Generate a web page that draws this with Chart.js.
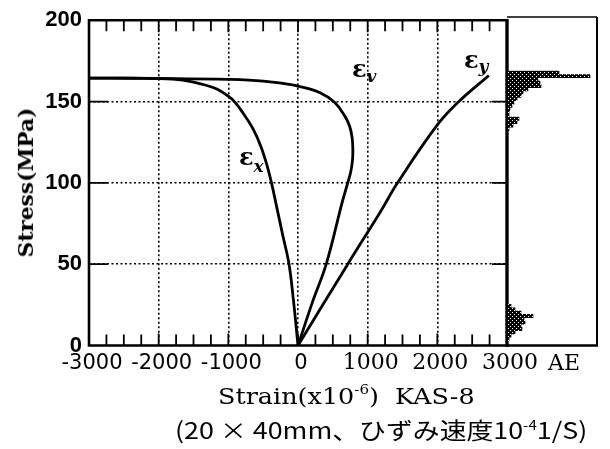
<!DOCTYPE html>
<html lang="ja">
<head>
<meta charset="utf-8">
<title>Stress–Strain KAS-8</title>
<script src="https://cdn.jsdelivr.net/npm/chart.js@4.4.1/dist/chart.umd.min.js"></script>
<style>
  html, body { margin: 0; padding: 0; background: #fff; }
  #wrap { position: relative; width: 610px; height: 449px; overflow: hidden; background: #fff; }
  #wrap canvas { position: absolute; left: 0; top: 0; }
  .lbl { position: absolute; white-space: nowrap; color: #000; line-height: 1; }
  .eps { font-family: "DejaVu Serif", serif; font-size: 24px; font-weight: bold; }
  .eps sub { font-family: "DejaVu Serif", serif; font-style: italic; font-weight: bold; font-size: 17px; vertical-align: 0; position: relative; }
  #xtitle { font-family: "DejaVu Serif", serif; font-size: 22px; transform-origin: 0 0; }
  #xtitle sup { font-size: 13px; vertical-align: 0; position: relative; top: -10px; }
  #jp { font-family: "Noto Sans CJK JP", sans-serif; font-size: 23px; transform-origin: 0 0; }
  #jp sup { font-size: 13px; vertical-align: 0; position: relative; top: -9px; }
  #ytitle { font-family: "DejaVu Serif", serif; font-size: 21px; font-weight: bold; transform-origin: 50% 50%; }
  #aeLabel { font-family: "DejaVu Serif", serif; font-size: 22px; }
</style>
</head>
<body>
<div id="wrap">
  <canvas id="mainChart" width="610" height="449"></canvas>
  <canvas id="aeChart" width="610" height="449"></canvas>
  <div class="lbl eps" style="left:464px; top:48px;">ε<sub style="top:4px">y</sub></div>
  <div class="lbl eps" style="left:352px; top:57px;">ε<sub style="top:5px">v</sub></div>
  <div class="lbl eps" style="left:239px; top:145px;">ε<sub style="top:7px">x</sub></div>
  <div class="lbl" id="aeLabel" style="left:548px; top:352px;">AE</div>
  <div class="lbl" id="xtitle" style="left:218px; top:386px;">Strain(x10<sup>-6</sup>)&nbsp; KAS-8</div>
  <div class="lbl" id="jp" style="left:175px; top:418px;">(20 × 40mm、ひずみ速度10<sup>-4</sup>1/S)</div>
  <div class="lbl" id="ytitle">Stress(MPa)</div>
</div>
<script>
// Strain (×10⁻⁶) and stress (MPa) readings for each gauge direction
const epsXStrain = [0, -66, -129, -220, -300, -370, -440, -530, -643, -790, -900, -1000, -1200, -1500, -1800, -2400, -3000];
const epsXStress = [0, 28, 50, 68, 84, 98, 110, 122, 133, 143, 149.3, 153.3, 158.3, 162, 163.8, 164.3, 164.4];

const epsVStrain = [0, 210, 405, 634, 714, 758, 782, 787, 776, 740, 667, 524, 310, -23, -500, -1000, -2000, -3000];
const epsVStress = [0, 27, 50, 88, 100, 107, 114, 121, 128, 135, 141.4, 149.5, 155.6, 159.7, 162.5, 163.6, 164.2, 164.4];

const epsYStrain = [0, 714, 1190, 1429, 2000, 2310, 2740];
const epsYStress = [0, 50, 82.7, 100, 135.6, 150, 166];

// Acoustic emission hits per 2 MPa stress bin
const aeStress = [4, 6, 8, 10, 12, 14, 16, 18, 20, 22, 24,
                  130, 132, 134, 136, 138, 140, 142, 144, 146, 148, 150, 152, 154, 156, 158, 160, 162, 164, 166];
const aeCount  = [2, 4, 8, 15, 14, 18, 17, 26, 14, 8, 4,
                  1, 2, 6, 10, 12, 2, 2, 3, 5, 7, 10, 14, 16, 21, 34, 33, 31, 83, 52];

// Axis ranges and tick spacing
const strainRange = [-3000, 3000];
const strainStep = 250;
const strainMajor = 1000;
const stressRange = [0, 200];
const stressStep = 50;
const aeMax = 90;

const toPoints = (xs, ys) => xs.map((x, i) => ({ x, y: ys[i] }));
const curve = (label, xs, ys) => ({
  label, data: toPoints(xs, ys), showLine: true, borderColor: '#000', borderWidth: 2.8,
  pointRadius: 0, tension: 0.4, fill: false
});

// Frame and inward tick marks of the strain panel
const frameTicks = {
  id: 'frameTicks',
  afterDraw(chart) {
    const { ctx, chartArea: a, scales: { x, y } } = chart;
    ctx.save();
    ctx.strokeStyle = '#000';
    ctx.lineWidth = 1.8;
    ctx.beginPath();
    x.ticks.forEach(t => {
      const px = x.getPixelForValue(t.value);
      const len = t.value % strainMajor === 0 ? 12 : 11;
      ctx.moveTo(px, a.bottom); ctx.lineTo(px, a.bottom - len);
      ctx.moveTo(px, a.top); ctx.lineTo(px, a.top + len);
    });
    y.ticks.forEach(t => {
      if (t.value <= y.min || t.value >= y.max) return;
      const py = y.getPixelForValue(t.value);
      ctx.moveTo(a.left, py); ctx.lineTo(a.left + 19, py);
      ctx.moveTo(a.right, py); ctx.lineTo(a.right - 15, py);
    });
    ctx.stroke();
    ctx.lineWidth = 2.6;
    ctx.beginPath();
    ctx.moveTo(a.right, a.top); ctx.lineTo(a.left, a.top);
    ctx.lineTo(a.left, a.bottom); ctx.lineTo(a.right, a.bottom);
    ctx.stroke();
    ctx.lineWidth = 3.4;
    ctx.beginPath();
    ctx.moveTo(a.right, a.top - 1.3); ctx.lineTo(a.right, a.bottom + 1.3);
    ctx.stroke();
    ctx.restore();
  }
};

// Frame of the AE panel
const aeFrame = {
  id: 'aeFrame',
  afterDraw(chart) {
    const { ctx, chartArea: a } = chart;
    ctx.save();
    ctx.strokeStyle = '#000';
    ctx.lineWidth = 1.5;
    ctx.beginPath(); ctx.moveTo(a.left, a.top); ctx.lineTo(a.right, a.top); ctx.stroke();
    ctx.lineWidth = 2;
    ctx.beginPath(); ctx.moveTo(a.right, a.top); ctx.lineTo(a.right, a.bottom); ctx.stroke();
    ctx.lineWidth = 2.6;
    ctx.beginPath(); ctx.moveTo(a.left, a.bottom); ctx.lineTo(a.right + 1, a.bottom); ctx.stroke();
    ctx.restore();
  }
};

const isInner = (tick, step, lo, hi) => tick && tick.value % step === 0 && tick.value > lo && tick.value < hi;

new Chart(document.getElementById('mainChart'), {
  type: 'scatter',
  data: {
    datasets: [
      curve('εx', epsXStrain, epsXStress),
      curve('εv', epsVStrain, epsVStress),
      curve('εy', epsYStrain, epsYStress)
    ]
  },
  options: {
    responsive: false, animation: false, devicePixelRatio: 1,
    layout: { padding: { top: 17, right: 103, left: 0, bottom: 0 } },
    plugins: { legend: { display: false }, tooltip: { enabled: false } },
    scales: {
      x: {
        type: 'linear', min: strainRange[0], max: strainRange[1],
        ticks: {
          stepSize: strainStep, autoSkip: false, maxRotation: 0, minRotation: 0, padding: 5,
          labelOffset: 3, color: '#000',
          callback: v => (v % strainMajor === 0 ? String(v) : ''),
          font: c => (c.tick && c.tick.value > 0)
            ? { family: 'DejaVu Serif', size: 22 }
            : { family: 'DejaVu Sans', size: 21 }
        },
        grid: {
          drawTicks: false, tickLength: 0, lineWidth: 1.6,
          color: c => isInner(c.tick, strainMajor, strainRange[0], strainRange[1]) ? '#000' : 'rgba(0,0,0,0)'
        },
        border: { display: false, dash: [2, 2.5] },
        afterFit: s => { s.height = 103.5; }
      },
      y: {
        type: 'linear', min: stressRange[0], max: stressRange[1],
        ticks: { stepSize: stressStep, padding: 7, color: '#000',
                 font: { family: 'Liberation Sans', size: 22, weight: 'bold' } },
        grid: {
          drawTicks: false, tickLength: 0, lineWidth: 1.6,
          color: c => isInner(c.tick, stressStep, stressRange[0], stressRange[1]) ? '#000' : 'rgba(0,0,0,0)'
        },
        border: { display: false, dash: [2, 2.5] },
        afterFit: s => { s.width = 89; }
      }
    }
  },
  plugins: [frameTicks]
});

// Stippled fill for the AE histogram
const stipple = (() => {
  const c = document.createElement('canvas');
  c.width = 4; c.height = 4;
  const g = c.getContext('2d');
  g.fillStyle = '#000'; g.fillRect(0, 0, 4, 4);
  g.fillStyle = '#fff'; g.fillRect(0, 0, 1, 1); g.fillRect(2, 2, 1, 1);
  return g.createPattern(c, 'repeat');
})();

new Chart(document.getElementById('aeChart'), {
  type: 'bar',
  data: {
    datasets: [{
      data: aeStress.map((s, i) => ({ x: aeCount[i], y: s })),
      backgroundColor: stipple, borderWidth: 0, barPercentage: 1, categoryPercentage: 1
    }]
  },
  options: {
    indexAxis: 'y', responsive: false, animation: false, devicePixelRatio: 1,
    layout: { padding: { left: 507, right: 13, top: 17, bottom: 103.5 } },
    plugins: { legend: { display: false }, tooltip: { enabled: false } },
    scales: {
      x: { type: 'linear', min: 0, max: aeMax, display: false },
      y: { type: 'linear', min: stressRange[0], max: stressRange[1], offset: false, display: false }
    }
  },
  plugins: [aeFrame]
});

// Stretch the caption lines to their set widths
function fitWidth(id, w) {
  const el = document.getElementById(id);
  el.style.transform = `scaleX(${w / el.offsetWidth})`;
}
fitWidth('xtitle', 257);
fitWidth('jp', 412);

(function placeYTitle() {
  const el = document.getElementById('ytitle');
  const w = el.offsetWidth, h = el.offsetHeight;
  el.style.left = (25 - w / 2) + 'px';
  el.style.top = (182 - h / 2) + 'px';
  el.style.transform = `rotate(-90deg) scaleX(${150 / w})`;
})();
</script>
</body>
</html>
